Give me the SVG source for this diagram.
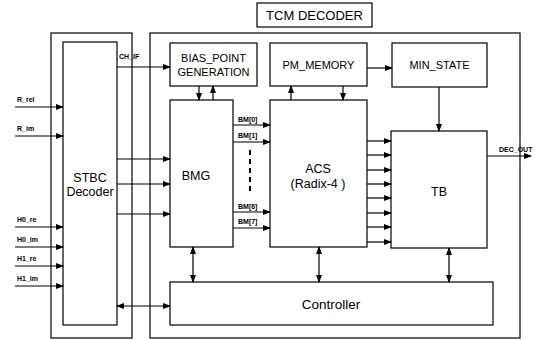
<svg xmlns="http://www.w3.org/2000/svg" width="541" height="340" viewBox="0 0 541 340">
<defs>
<marker id="ah" markerWidth="8" markerHeight="6" refX="7" refY="3" orient="auto-start-reverse" markerUnits="userSpaceOnUse">
<path d="M0,0 L8,3 L0,6 Z" fill="#000"/>
</marker>
<style>
.box{fill:#fff;stroke:#000;stroke-width:1.2}
.frame{fill:none;stroke:#000;stroke-width:1.2}
.ln{fill:none;stroke:#000;stroke-width:1.2}
.ar{fill:none;stroke:#000;stroke-width:1.2;marker-end:url(#ah)}
.bi{fill:none;stroke:#000;stroke-width:1.2;marker-end:url(#ah);marker-start:url(#ah)}
.t{font-family:"Liberation Sans",Arial,sans-serif;fill:#000;text-anchor:middle}
.m{font-size:11px}
.b{font-size:12.5px}
.s{font-size:7px;font-weight:bold;text-anchor:start}
</style>
</defs>
<rect width="541" height="340" fill="#fff"/>
<g id="stbc_frame"><rect class="frame" x="51" y="33" width="81" height="305"/></g>
<g id="tcm_frame"><rect class="frame" x="150" y="33" width="370" height="305"/></g>
<g id="tcm_label"><rect class="box" x="257" y="3" width="115" height="24"/><text class="t" x="314.5" y="20" style="font-size:13px">TCM DECODER</text></g>
<g id="stbc"><rect class="box" x="63" y="42" width="54" height="283"/><text class="t b" x="90" y="182">STBC</text><text class="t b" x="90" y="196">Decoder</text></g>
<g id="bias"><rect class="box" x="170" y="43" width="87" height="43"/><text class="t m" x="213.5" y="62">BIAS_POINT</text><text class="t m" x="213.5" y="76">GENERATION</text></g>
<g id="pm"><rect class="box" x="270" y="43" width="97" height="43"/><text class="t m" x="318.5" y="69">PM_MEMORY</text></g>
<g id="min"><rect class="box" x="392" y="43" width="95" height="44"/><text class="t m" x="439.5" y="69">MIN_STATE</text></g>
<g id="bmg"><rect class="box" x="170" y="100" width="63" height="147"/><text class="t b" x="196" y="180">BMG</text></g>
<g id="acs"><rect class="box" x="270" y="100" width="97" height="147"/><text class="t b" x="318" y="173">ACS</text><text class="t b" x="318" y="188">(Radix-4 )</text></g>
<g id="tb"><rect class="box" x="391" y="131" width="96" height="117"/><text class="t b" x="439" y="196">TB</text></g>
<g id="controller"><rect class="box" x="170" y="282" width="323" height="43"/><text class="t" x="331" y="309" style="font-size:13.5px">Controller</text></g>
<g id="connectors">
<path class="ar" d="M117,67 H170"/>
<path class="ar" d="M15,107 H63"/>
<path class="ar" d="M15,136 H63"/>
<path class="ar" d="M15,227 H63"/>
<path class="ar" d="M15,247 H63"/>
<path class="ar" d="M15,266 H63"/>
<path class="ar" d="M15,286 H63"/>
<path class="ar" d="M117,159 H170"/>
<path class="ar" d="M117,184 H170"/>
<path class="ar" d="M117,214 H170"/>
<path class="bi" d="M117,306 H170"/>
<path class="ar" d="M199,86 V100"/>
<path class="ar" d="M213,100 V86"/>
<path class="ar" d="M291,100 V86"/>
<path class="ar" d="M343,86 V100"/>
<path class="ar" d="M367,68 H392"/>
<path class="ar" d="M439,87 V131"/>
<path class="ar" d="M233,125 H270"/>
<path class="ar" d="M233,142 H270"/>
<path class="ar" d="M233,212 H270"/>
<path class="ar" d="M233,228 H270"/>
<path class="ln" d="M250,150 V192" stroke-dasharray="5,4" style="stroke-width:2"/>
<path class="ar" d="M367,141 H391"/>
<path class="ar" d="M367,155 H391"/>
<path class="ar" d="M367,170 H391"/>
<path class="ar" d="M367,184 H391"/>
<path class="ar" d="M367,198 H391"/>
<path class="ar" d="M367,213 H391"/>
<path class="ar" d="M367,227 H391"/>
<path class="ar" d="M367,242 H391"/>
<path class="ar" d="M487,156 H531"/>
<path class="bi" d="M193,247 V282"/>
<path class="bi" d="M319,247 V282"/>
<path class="bi" d="M449,248 V282"/>
</g>
<g id="labels">
<text class="t s" x="119" y="59">CH_IF</text>
<text class="t s" x="17" y="102">R_rel</text>
<text class="t s" x="17" y="131">R_im</text>
<text class="t s" x="17" y="222">H0_re</text>
<text class="t s" x="17" y="242">H0_im</text>
<text class="t s" x="17" y="261">H1_re</text>
<text class="t s" x="17" y="281">H1_im</text>
<text class="t s" x="238" y="122">BM[0]</text>
<text class="t s" x="238" y="138">BM[1]</text>
<text class="t s" x="238" y="209">BM[6]</text>
<text class="t s" x="238" y="224">BM[7]</text>
<text class="t s" x="499" y="152">DEC_OUT</text>
</g>
</svg>
